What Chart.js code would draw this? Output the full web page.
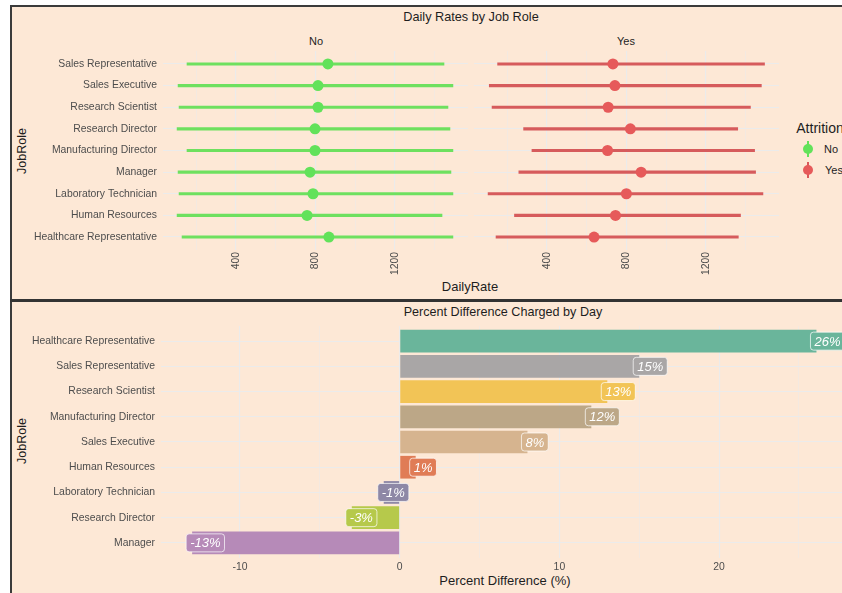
<!DOCTYPE html>
<html>
<head>
<meta charset="utf-8">
<script src="https://cdn.jsdelivr.net/npm/chart.js@4.4.1/dist/chart.umd.min.js"></script>
<style>
html, body { margin:0; padding:0; background:#fff; }
body { width:842px; height:593px; position:relative; overflow:hidden; font-family:"Liberation Sans", Arial, sans-serif; }
#frame { position:absolute; left:10px; top:5px; width:840px; height:600px; background:#fde8d6; border-left:2px solid #3b3b3b; border-top:2px solid #3b3b3b; }
#sep { position:absolute; left:10px; top:299px; width:842px; height:3px; background:#333; }
.txt { position:absolute; white-space:nowrap; color:#1e1e1e; transform:translate(-50%,-50%); }
.cv { position:absolute; }
.key { position:absolute; width:10px; height:10px; border-radius:50%; }
.stem { position:absolute; width:2px; height:16px; }
</style>
</head>
<body>
<div id="frame"></div>
<div id="sep"></div>

<div class="txt" style="left:471px; top:17px; font-size:12.7px;">Daily Rates by Job Role</div>
<div class="txt" style="left:316px; top:41px; font-size:11px;">No</div>
<div class="txt" style="left:626px; top:41px; font-size:11px;">Yes</div>
<div class="txt" style="left:470px; top:286px; font-size:13px;">DailyRate</div>
<div class="txt" style="left:22px; top:151px; font-size:12.5px; transform:translate(-50%,-50%) rotate(-90deg);">JobRole</div>

<div class="txt" style="left:820px; top:128px; font-size:14px;">Attrition</div>
<div class="stem" style="left:807px; top:141px; background:#62e25a;"></div>
<div class="key" style="left:803px; top:144px; background:#62e25a;"></div>
<div class="txt" style="left:831px; top:149px; font-size:11px;">No</div>
<div class="stem" style="left:807px; top:162px; background:#d9585a;"></div>
<div class="key" style="left:803px; top:165px; background:#e65a5a;"></div>
<div class="txt" style="left:834px; top:170px; font-size:11px;">Yes</div>

<div class="txt" style="left:503px; top:312px; font-size:12.6px;">Percent Difference Charged by Day</div>
<div class="txt" style="left:505px; top:580px; font-size:13px;">Percent Difference (%)</div>
<div class="txt" style="left:22px; top:441px; font-size:12.5px; transform:translate(-50%,-50%) rotate(-90deg);">JobRole</div>

<canvas id="cNo" class="cv" width="456" height="229" style="left:12px; top:51px;"></canvas>
<canvas id="cYes" class="cv" width="305" height="229" style="left:474px; top:51px;"></canvas>
<canvas id="cDiff" class="cv" width="834" height="250" style="left:12px; top:326px;"></canvas>

<script>
// top panel, rows from top to bottom
var rateRoles = ['Sales Representative', 'Sales Executive', 'Research Scientist', 'Research Director',
	'Manufacturing Director', 'Manager', 'Laboratory Technician', 'Human Resources', 'Healthcare Representative'];
var noMin  = [153, 108, 113, 103, 153, 108, 113, 103, 128];
var noMax  = [1448, 1493, 1468, 1478, 1493, 1483, 1493, 1438, 1493];
var noMean = [863, 813, 813, 798, 798, 773, 788, 758, 868];
var yesMin  = [151, 109, 123, 282, 324, 258, 103, 236, 143];
var yesMax  = [1496, 1480, 1425, 1361, 1446, 1451, 1488, 1375, 1364];
var yesMean = [732, 742, 708, 820, 705, 874, 800, 745, 637];
var rateTicks = [200, 400, 600, 800, 1000, 1200, 1400];

// bottom panel, rows from top to bottom
var diffRoles = ['Healthcare Representative', 'Sales Representative', 'Research Scientist', 'Manufacturing Director',
	'Sales Executive', 'Human Resources', 'Laboratory Technician', 'Research Director', 'Manager'];
var diffValues = [26.1, 15.0, 13.0, 12.0, 8.0, 1.0, -1.0, -3.0, -13.0];
var diffColors = ['#6ab59b', '#a9a6a6', '#f2c456', '#bca787', '#d6b48f', '#e07c56', '#8e88a6', '#b6c94b', '#b68ab8'];
var diffTicks = [-10, -5, 0, 5, 10, 15, 20, 25];

Chart.defaults.font.family = '"Liberation Sans", Arial, sans-serif';
Chart.defaults.color = '#4d4d4d';
var gridColor = '#ebebeb';
var labelSize = 10.4;

// keep the plot area exactly where the canvas says
function noPad(s) {
	s.paddingTop = 0; s.paddingBottom = 0; s.paddingLeft = 0; s.paddingRight = 0;
}

function facetChart(id, mins, maxs, means, lineColor, dotColor, showY) {
	return new Chart(document.getElementById(id).getContext('2d'), {
		type: 'bar',
		data: {
			datasets: [
				{
					type: 'scatter',
					data: means.map(function(v, i) { return {x: v, y: i}; }),
					backgroundColor: dotColor,
					borderWidth: 0,
					pointRadius: 5.5,
					order: 0
				},
				{
					type: 'bar',
					indexAxis: 'y',
					data: mins.map(function(v, i) { return {x: [v, maxs[i]], y: i}; }),
					backgroundColor: lineColor,
					barThickness: 2.5,
					order: 1
				}
			]
		},
		options: {
			responsive: false,
			animation: false,
			layout: {padding: 0, autoPadding: false},
			plugins: {legend: {display: false}, tooltip: {enabled: false}},
			scales: {
				x: {
					type: 'linear', min: 32, max: 1569, offset: false,
					afterBuildTicks: function(s) { s.ticks = rateTicks.map(function(v) { return {value: v}; }); },
					afterFit: function(s) { s.height = 30; noPad(s); },
					ticks: {
						autoSkip: false, minRotation: 90, maxRotation: 90, padding: 2,
						font: {size: labelSize},
						callback: function(v) { return v % 400 === 0 ? v : ''; }
					},
					grid: {
						color: gridColor, drawTicks: false, offset: false,
						lineWidth: function(c) { return c.tick && c.tick.value % 400 === 0 ? 1.1 : 0.5; }
					},
					border: {display: false}
				},
				y: {
					type: 'linear', reverse: true, min: -0.6, max: 8.6, offset: false,
					afterBuildTicks: function(s) { s.ticks = rateRoles.map(function(r, i) { return {value: i}; }); },
					afterFit: function(s) { s.width = showY ? 151 : 0; noPad(s); },
					ticks: {
						display: showY, padding: 6, font: {size: labelSize},
						callback: function(v) { return rateRoles[v]; }
					},
					grid: {color: gridColor, lineWidth: 1.1, drawTicks: false, offset: false},
					border: {display: false}
				}
			}
		}
	});
}

facetChart('cNo', noMin, noMax, noMean, '#6ee05f', '#62e25a', true);
facetChart('cYes', yesMin, yesMax, yesMean, '#d65b5c', '#e65a5a', false);

// white italic labels in boxes at the bar ends
var barLabels = {
	id: 'barLabels',
	afterDatasetsDraw: function(chart) {
		var ctx = chart.ctx;
		var meta = chart.getDatasetMeta(0);
		var xs = chart.scales.x;
		ctx.save();
		ctx.font = 'italic 13px "Liberation Sans", Arial, sans-serif';
		ctx.textBaseline = 'middle';
		meta.data.forEach(function(el, i) {
			var v = diffValues[i];
			var txt = Math.round(v) + '%';
			var w = ctx.measureText(txt).width + 8;
			var h = 18;
			var left = xs.getPixelForValue(v) - 6;
			var top = el.y - h / 2;
			ctx.beginPath();
			ctx.roundRect(left, top, w, h, 3);
			ctx.fillStyle = diffColors[i];
			ctx.fill();
			ctx.lineWidth = 1;
			ctx.strokeStyle = 'rgba(255,255,255,0.7)';
			ctx.stroke();
			ctx.fillStyle = '#ffffff';
			ctx.fillText(txt, left + 4, el.y + 1);
		});
		ctx.restore();
	}
};

new Chart(document.getElementById('cDiff').getContext('2d'), {
	type: 'bar',
	data: {
		datasets: [{
			indexAxis: 'y',
			data: diffValues.map(function(v, i) { return {x: v, y: i}; }),
			backgroundColor: diffColors,
			barPercentage: 0.9,
			categoryPercentage: 1
		}]
	},
	options: {
		indexAxis: 'y',
		responsive: false,
		animation: false,
		layout: {padding: 0, autoPadding: false},
		plugins: {legend: {display: false}, tooltip: {enabled: false}},
		scales: {
			x: {
				type: 'linear', min: -14.95, max: 27.95, offset: false,
				afterBuildTicks: function(s) { s.ticks = diffTicks.map(function(v) { return {value: v}; }); },
				afterFit: function(s) { s.height = 18; noPad(s); },
				ticks: {
					autoSkip: false, maxRotation: 0, padding: 3, font: {size: labelSize},
					callback: function(v) { return v % 10 === 0 ? v : ''; }
				},
				grid: {
					color: gridColor, drawTicks: false, offset: false,
					lineWidth: function(c) { return c.tick && c.tick.value % 10 === 0 ? 1.1 : 0.5; }
				},
				border: {display: false}
			},
			y: {
				type: 'linear', reverse: true, min: -0.6, max: 8.6, offset: false,
				afterBuildTicks: function(s) { s.ticks = diffRoles.map(function(r, i) { return {value: i}; }); },
				afterFit: function(s) { s.width = 149; noPad(s); },
				ticks: {
					padding: 6, font: {size: labelSize},
					callback: function(v) { return diffRoles[v]; }
				},
				grid: {color: gridColor, lineWidth: 1.1, drawTicks: false, offset: false},
				border: {display: false}
			}
		}
	},
	plugins: [barLabels]
});
</script>
</body>
</html>
